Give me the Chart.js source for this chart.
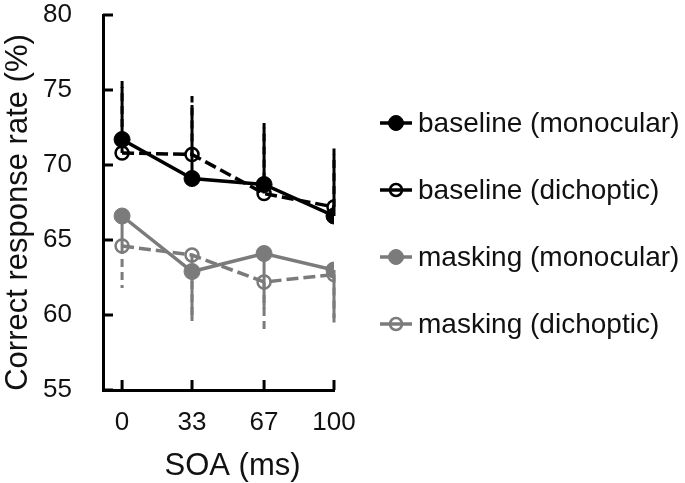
<!DOCTYPE html>
<html><head><meta charset="utf-8">
<script src="https://cdn.jsdelivr.net/npm/chart.js@4"></script>
<style>html,body{margin:0;padding:0;background:#fff;overflow:hidden}</style>
</head><body>
<canvas id="c" width="685" height="483"></canvas>
<script>
// ---- data ----
const soa = [0, 33, 67, 100];
const xTicks = [0, 33, 67, 100];
const yTicks = [55, 60, 65, 70, 75, 80];
const seriesNames = ['baseline (monocular)', 'baseline (dichoptic)', 'masking (monocular)', 'masking (dichoptic)'];
const baselineMono = [71.7, 69.1, 68.7, 66.6];
const baselineDich = [70.8, 70.7, 68.1, 67.2];
const maskingMono  = [66.6, 62.9, 64.1, 63.0];
const maskingDich  = [64.6, 64.0, 62.2, 62.7];
// error bar lengths (baseline drawn upward, masking drawn downward)
const baselineMonoErr = [3.9, 4.9, 4.1, 4.1];
const baselineDichErr = [4.4, 3.9, 4.4, 3.9];
const maskingMonoErr  = [2.0, 3.3, 3.7, 3.5];
const maskingDichErr  = [2.8, 4.1, 3.2, 2.9];
const xTitle = 'SOA (ms)';
const yTitle = 'Correct response rate (%)';

const BLACK = '#000000';
const GRAY = '#7b7b7b';
const FONT = 'Liberation Sans, Arial, Helvetica, sans-serif';
const TXT = '#111111';

function pts(vals){ return vals.map((v,i)=>({x: soa[i], y: v})); }
function ds(name, vals, errs, dir, color, open){
  return {
    label: name, data: pts(vals), errors: errs, errDir: dir,
    borderColor: color, backgroundColor: color,
    borderWidth: 3.5, borderDash: open ? [12,5] : [],
    pointRadius: open ? 6.5 : 8, pointHoverRadius: open ? 6.5 : 8,
    pointBackgroundColor: open ? 'rgba(0,0,0,0)' : color,
    pointBorderColor: color, pointBorderWidth: open ? 2.5 : 1,
    open: open, tension: 0, fill: false
  };
}

const errorBars = {
  id: 'errorBars',
  beforeDatasetsDraw(chart){
    const {ctx, scales:{x, y}} = chart;
    const order = [1, 3, 0, 2];
    order.forEach(di => {
      const d = chart.data.datasets[di];
      ctx.save();
      ctx.strokeStyle = d.borderColor;
      ctx.lineWidth = 3;
      ctx.setLineDash(d.open ? [8,5] : []);
      d.data.forEach((p, i) => {
        const px = x.getPixelForValue(p.x);
        const y0 = y.getPixelForValue(p.y);
        const y1 = y.getPixelForValue(p.y + d.errDir * d.errors[i]);
        ctx.beginPath(); ctx.moveTo(px, y0); ctx.lineTo(px, y1); ctx.stroke();
      });
      ctx.restore();
    });
  }
};

const innerTicks = {
  id: 'innerTicks',
  afterDraw(chart){
    const {ctx, chartArea:a, scales:{x, y}} = chart;
    ctx.save();
    ctx.strokeStyle = '#000'; ctx.lineWidth = 3;
    xTicks.forEach(v => {
      const px = x.getPixelForValue(v);
      ctx.beginPath(); ctx.moveTo(px, a.bottom); ctx.lineTo(px, a.bottom - 10); ctx.stroke();
    });
    yTicks.forEach(v => {
      const py = y.getPixelForValue(v);
      ctx.beginPath(); ctx.moveTo(a.left, py); ctx.lineTo(a.left + 10, py); ctx.stroke();
    });
    ctx.fillStyle = TXT;
    ctx.font = '31px ' + FONT;
    ctx.textAlign = 'center'; ctx.textBaseline = 'middle';
    ctx.fillText(xTitle, (a.left + a.right)/2 + 14, a.bottom + 76);
    ctx.save();
    ctx.translate(a.left - 85, (a.top + a.bottom)/2 + 10);
    ctx.rotate(-Math.PI/2);
    ctx.fillText(yTitle, 0, 0);
    ctx.restore();
    chart.data.datasets.forEach((d, i) => {
      const ry = 123 + i * 67;
      const lx = a.right + 46;
      ctx.save();
      ctx.strokeStyle = d.borderColor; ctx.lineWidth = 3.5;
      ctx.beginPath(); ctx.moveTo(lx, ry); ctx.lineTo(lx + 32, ry); ctx.stroke();
      ctx.beginPath(); ctx.arc(lx + 16, ry, d.open ? 6 : 7.5, 0, Math.PI*2);
      if (!d.open) { ctx.fillStyle = d.borderColor; ctx.fill(); }
      ctx.lineWidth = d.open ? 2.5 : 1; ctx.stroke();
      ctx.restore();
      ctx.fillStyle = TXT;
      ctx.font = '28px ' + FONT;
      ctx.textAlign = 'left'; ctx.textBaseline = 'middle';
      ctx.fillText(d.label, lx + 38, ry + 1);
    });
    ctx.restore();
  }
};

new Chart(document.getElementById('c'), {
  type: 'line',
  data: {
    datasets: [
      ds(seriesNames[0], baselineMono, baselineMonoErr, 1, BLACK, false),
      ds(seriesNames[1], baselineDich, baselineDichErr, 1, BLACK, true),
      ds(seriesNames[2], maskingMono, maskingMonoErr, -1, GRAY, false),
      ds(seriesNames[3], maskingDich, maskingDichErr, -1, GRAY, true)
    ]
  },
  options: {
    responsive: false, animation: false, devicePixelRatio: 1,
    layout: { padding: { top: 15, right: 351, left: 0, bottom: 0 } },
    plugins: { legend: { display: false }, tooltip: { enabled: false } },
    scales: {
      x: {
        type: 'linear', min: -9, max: 100,
        grid: { display: false },
        border: { display: true, width: 3, color: '#000' },
        afterBuildTicks: s => { s.ticks = xTicks.map(v => ({value: v})); },
        afterFit: s => { s.height = 93; s.paddingLeft = 0; s.paddingRight = 0; },
        ticks: { font: { size: 26, family: FONT }, color: TXT, padding: 9, maxRotation: 0, autoSkip: false }
      },
      y: {
        min: 55, max: 80,
        grid: { display: false },
        border: { display: true, width: 3, color: '#000' },
        afterBuildTicks: s => { s.ticks = yTicks.map(v => ({value: v})); },
        afterFit: s => { s.width = 103; s.paddingTop = 0; s.paddingBottom = 0; },
        ticks: { font: { size: 26, family: FONT }, color: TXT, padding: 23 }
      }
    }
  },
  plugins: [errorBars, innerTicks]
});
</script>
</body></html>
